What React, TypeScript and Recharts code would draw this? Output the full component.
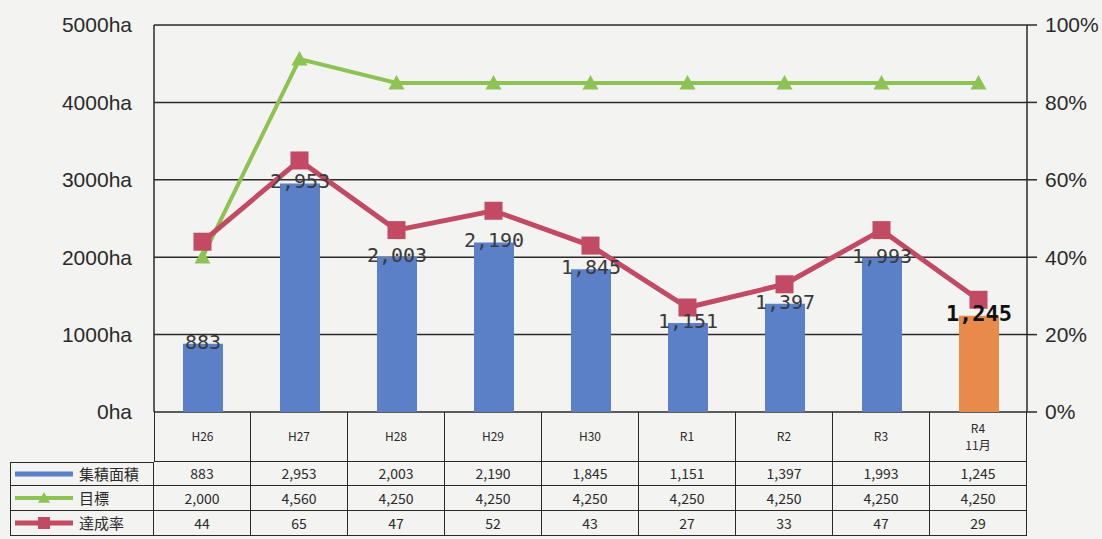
import React from 'react';
import { Bar, CartesianGrid, Cell, ComposedChart, LabelList, Line, XAxis, YAxis } from 'recharts';

const years = ['H26', 'H27', 'H28', 'H29', 'H30', 'R1', 'R2', 'R3', 'R4'];
const yearNotes = ['', '', '', '', '', '', '', '', '11月'];
const area = [883, 2953, 2003, 2190, 1845, 1151, 1397, 1993, 1245];
const target = [2000, 4560, 4250, 4250, 4250, 4250, 4250, 4250, 4250];
const rate = [44, 65, 47, 52, 43, 27, 33, 47, 29];
const areaTicks = [0, 1000, 2000, 3000, 4000, 5000];
const rateTicks = [0, 20, 40, 60, 80, 100];

const seriesNames = { area: '集積面積', target: '目標', rate: '達成率' };

const BLUE = '#5b80c8';
const ORANGE = '#e88a4c';
const GREEN = '#8dc352';
const RED = '#c24a63';
const INK = '#2a2a2a';
const BG = '#f3f3f1';

const data = years.map((name, i) => ({ name, area: area[i], target: target[i], rate: rate[i] }));

const fmt = (v: number) => v.toLocaleString('en-US');

const Triangle = ({ cx, cy, size = 16 }: { cx: number; cy: number; size?: number }) => (
  <path
    d={`M${cx},${cy - size * 0.5} L${cx + size * 0.5},${cy + size * 0.4} L${cx - size * 0.5},${cy + size * 0.4} Z`}
    fill={GREEN}
  />
);

const Square = ({ cx, cy, size = 18 }: { cx: number; cy: number; size?: number }) => (
  <rect x={cx - size / 2} y={cy - size / 2} width={size} height={size} fill={RED} />
);

const AreaLabel = (props: any) => {
  const { x, y, width, value, index } = props;
  const last = index === area.length - 1;
  return (
    <text
      x={x + width / 2}
      y={y - 2}
      textAnchor="middle"
      dominantBaseline="central"
      fontFamily="DejaVu Sans Mono, monospace"
      fontSize={last ? 22 : 20}
      fontWeight={last ? 700 : 400}
      fill={last ? '#111' : '#3a3a3a'}
    >
      {fmt(value)}
    </text>
  );
};

const LegendMark = ({ kind }: { kind: 'area' | 'target' | 'rate' }) => (
  <svg width={62} height={16} style={{ marginRight: 4 }}>
    {kind === 'area' && <line x1={2} x2={60} y1={8} y2={8} stroke={BLUE} strokeWidth={5} />}
    {kind === 'target' && (
      <>
        <line x1={2} x2={60} y1={8} y2={8} stroke={GREEN} strokeWidth={4} />
        <Triangle cx={31} cy={8} size={12} />
      </>
    )}
    {kind === 'rate' && (
      <>
        <line x1={2} x2={60} y1={8} y2={8} stroke={RED} strokeWidth={5} />
        <Square cx={31} cy={8} size={12} />
      </>
    )}
  </svg>
);

const border = `1.5px solid ${INK}`;
const tableFont = '"Noto Sans CJK JP", sans-serif';

const DataTable = () => {
  const rows: { kind: 'area' | 'target' | 'rate'; values: string[] }[] = [
    { kind: 'area', values: area.map(fmt) },
    { kind: 'target', values: target.map(fmt) },
    { kind: 'rate', values: rate.map(String) },
  ];
  const cell: React.CSSProperties = {
    boxSizing: 'border-box',
    borderRight: border,
    borderBottom: border,
    display: 'flex',
    alignItems: 'center',
    justifyContent: 'center',
    fontFamily: tableFont,
    fontSize: 14,
    color: INK,
    lineHeight: 1.05,
  };
  return (
    <div
      style={{
        position: 'absolute',
        left: 10,
        top: 412,
        display: 'grid',
        gridTemplateColumns: '144px repeat(9, 97px)',
        gridTemplateRows: '50px 24px 25px 25px',
      }}
    >
      <div />
      {years.map((y, i) => (
        <div
          key={y}
          style={{ ...cell, flexDirection: 'column', borderLeft: i === 0 ? border : undefined, fontSize: 12, lineHeight: 1.4 }}
        >
          <span>{y}</span>
          {yearNotes[i] && <span>{yearNotes[i]}</span>}
        </div>
      ))}
      {rows.map((r, ri) => (
        <React.Fragment key={r.kind}>
          <div
            style={{
              ...cell,
              borderLeft: border,
              borderTop: ri === 0 ? border : undefined,
              justifyContent: 'flex-start',
              paddingLeft: 2,
              fontSize: 15,
            }}
          >
            <LegendMark kind={r.kind} />
            {seriesNames[r.kind]}
          </div>
          {r.values.map((v, i) => (
            <div key={i} style={cell}>
              {v}
            </div>
          ))}
        </React.Fragment>
      ))}
    </div>
  );
};

export default function App() {
  return (
    <div style={{ position: 'absolute', left: 0, top: 0, width: 1102, height: 539, background: BG, overflow: 'hidden' }}>
      <ComposedChart
        width={1102}
        height={539}
        data={data}
        margin={{ top: 25, right: 0, bottom: 127, left: 0 }}
        barCategoryGap={0}
      >
        <CartesianGrid yAxisId="left" vertical={false} stroke={INK} strokeWidth={1.5} />
        <XAxis dataKey="name" height={0} tick={false} tickLine={false} axisLine={{ stroke: INK, strokeWidth: 1.5 }} />
        <YAxis
          yAxisId="left"
          width={154}
          domain={[0, 5000]}
          ticks={areaTicks}
          tickFormatter={(v: number) => `${v}ha`}
          tickLine={false}
          tickSize={0}
          tickMargin={22}
          axisLine={{ stroke: INK, strokeWidth: 1.5 }}
          tick={{ fill: INK, fontSize: 21, fontFamily: 'Liberation Sans, Arial, sans-serif' }}
        />
        <YAxis
          yAxisId="right"
          orientation="right"
          width={75}
          domain={[0, 100]}
          ticks={rateTicks}
          tickFormatter={(v: number) => `${v}%`}
          tickSize={10}
          tickMargin={8}
          tickLine={{ stroke: INK, strokeWidth: 1.5 }}
          axisLine={{ stroke: INK, strokeWidth: 1.5 }}
          tick={{ fill: INK, fontSize: 21, fontFamily: 'Liberation Sans, Arial, sans-serif' }}
        />
        <Bar yAxisId="left" dataKey="area" barSize={40} isAnimationActive={false}>
          {data.map((d, i) => (
            <Cell key={d.name} fill={i === data.length - 1 ? ORANGE : BLUE} />
          ))}
          <LabelList dataKey="area" content={AreaLabel} />
        </Bar>
        <Line
          yAxisId="left"
          dataKey="target"
          stroke={GREEN}
          strokeWidth={4}
          isAnimationActive={false}
          dot={(p: any) => <Triangle key={`t-${p.index}`} cx={p.cx} cy={p.cy} />}
          activeDot={false}
        />
        <Line
          yAxisId="right"
          dataKey="rate"
          stroke={RED}
          strokeWidth={5}
          isAnimationActive={false}
          dot={(p: any) => <Square key={`s-${p.index}`} cx={p.cx} cy={p.cy} />}
          activeDot={false}
        />
      </ComposedChart>
      <DataTable />
    </div>
  );
}
